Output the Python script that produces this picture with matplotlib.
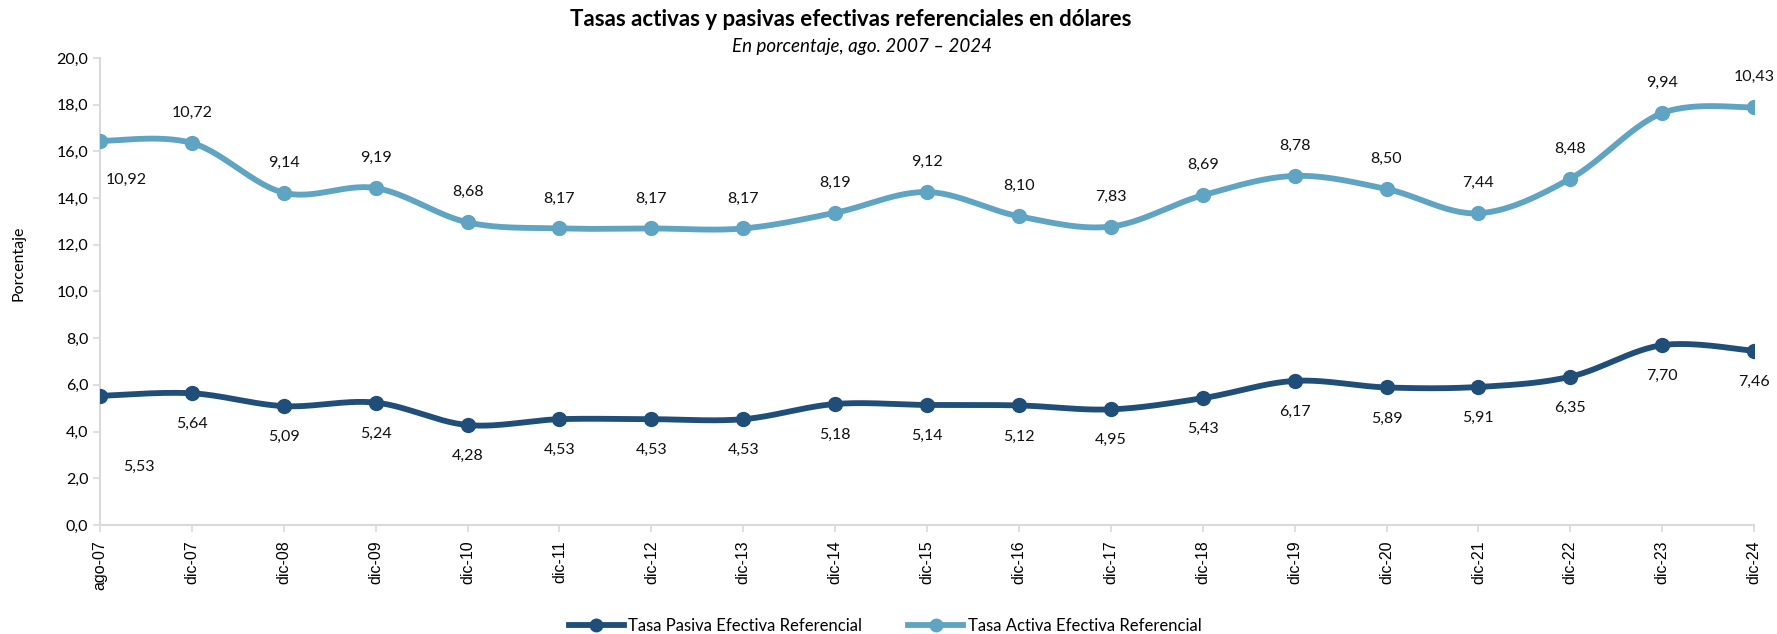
import matplotlib
matplotlib.use("Agg")
import matplotlib.pyplot as plt
import numpy as np
from matplotlib.lines import Line2D
from matplotlib.ticker import FuncFormatter

plt.rcParams["font.family"] = ["Lato", "DejaVu Sans"]

PASIVA_C = "#1F4E79"
ACTIVA_C = "#5FA4C2"
AXIS_C = "#D9D9D9"

periodos = ["ago-07", "dic-07", "dic-08", "dic-09", "dic-10", "dic-11", "dic-12",
            "dic-13", "dic-14", "dic-15", "dic-16", "dic-17", "dic-18", "dic-19",
            "dic-20", "dic-21", "dic-22", "dic-23", "dic-24"]
pasiva = [5.53, 5.64, 5.09, 5.24, 4.28, 4.53, 4.53, 4.53, 5.18, 5.14, 5.12,
          4.95, 5.43, 6.17, 5.89, 5.91, 6.35, 7.70, 7.46]
activa = [10.92, 10.72, 9.14, 9.19, 8.68, 8.17, 8.17, 8.17, 8.19, 9.12, 8.10,
          7.83, 8.69, 8.78, 8.50, 7.44, 8.48, 9.94, 10.43]


def smooth(x, y, n=30):
    # cubic Bezier through every point, tangents from neighbours (spreadsheet-style smoothing)
    x = np.asarray(x, float)
    y = np.asarray(y, float)
    px = np.concatenate([[x[0]], x, [x[-1]]])
    py = np.concatenate([[y[0]], y, [y[-1]]])
    xs, ys = [], []
    t = np.linspace(0, 1, n)
    for i in range(1, len(px) - 2):
        p0 = np.array([px[i], py[i]])
        p3 = np.array([px[i + 1], py[i + 1]])
        c1 = p0 + (np.array([px[i + 1], py[i + 1]]) - np.array([px[i - 1], py[i - 1]])) / 6
        c2 = p3 - (np.array([px[i + 2], py[i + 2]]) - np.array([px[i], py[i]])) / 6
        seg = ((1 - t)[:, None] ** 3) * p0 + 3 * ((1 - t) ** 2 * t)[:, None] * c1 \
            + 3 * ((1 - t) * t ** 2)[:, None] * c2 + (t[:, None] ** 3) * p3
        xs.extend(seg[:, 0])
        ys.extend(seg[:, 1])
    return np.array(xs), np.array(ys)


def coma(v):
    return f"{v:.2f}".replace(".", ",")


x = np.arange(len(periodos))
# stacked lines: the active rate sits on top of the passive one
apilado = np.array(pasiva) + np.array(activa)

fig = plt.figure(figsize=(17.77, 6.34), dpi=100)
ax = fig.add_axes([0.0563, 0.172, 0.9308, 0.7365])

for vals, col in [(pasiva, PASIVA_C), (apilado, ACTIVA_C)]:
    sx, sy = smooth(x, vals)
    ax.plot(sx, sy, color=col, lw=4.2, solid_capstyle="round", zorder=3)
    ax.plot(x, vals, "o", color=col, ms=10, zorder=4)

lbl = dict(textcoords="offset pixels", ha="center", va="center",
           fontsize=11.5, color="#111111")
for i in range(len(x)):
    if i == 0:
        ax.annotate(coma(pasiva[i]), (x[i], pasiva[i]), xytext=(39, -71), **lbl)
        ax.annotate(coma(activa[i]), (x[i], apilado[i]), xytext=(26, -39), **lbl)
        continue
    ax.annotate(coma(pasiva[i]), (x[i], pasiva[i]), xytext=(0, -31), **lbl)
    ax.annotate(coma(activa[i]), (x[i], apilado[i]), xytext=(0, 30), **lbl)

ax.set_xlim(0, len(x) - 1)
ax.set_ylim(0, 20)
ax.set_yticks(np.arange(0, 20.1, 2))
ax.yaxis.set_major_formatter(FuncFormatter(lambda v, p: f"{v:.1f}".replace(".", ",")))
ax.set_xticks(x)
ax.set_xticklabels(periodos, rotation=90, fontsize=11.5, family="Liberation Sans")
ax.tick_params(axis="y", labelsize=11.5, length=5, color=AXIS_C, width=1.2)
ax.tick_params(axis="x", length=5, color=AXIS_C, width=1.2, pad=6)
for s in ["top", "right"]:
    ax.spines[s].set_visible(False)
for s in ["left", "bottom"]:
    ax.spines[s].set_color(AXIS_C)
    ax.spines[s].set_linewidth(1.5)
ax.set_ylabel("Porcentaje", fontsize=11.5)
ax.yaxis.set_label_coords(-0.045, 0.56)

fig.text(0.479, 0.969, "Tasas activas y pasivas efectivas referenciales en dólares",
         ha="center", va="center", fontsize=16, fontweight="bold")
fig.text(0.485, 0.927, "En porcentaje, ago. 2007 \u2013 2024",
         ha="center", va="center", fontsize=13.5, style="italic")

handles = [Line2D([], [], color=PASIVA_C, lw=4.2, marker="o", ms=9),
           Line2D([], [], color=ACTIVA_C, lw=4.2, marker="o", ms=9)]
fig.legend(handles, ["Tasa Pasiva Efectiva Referencial", "Tasa Activa Efectiva Referencial"],
           loc="center", bbox_to_anchor=(0.498, 0.013), ncol=2, frameon=False,
           fontsize=12, handlelength=3.3, handletextpad=0.25, columnspacing=2.8)

fig.savefig("out.png", dpi=100, facecolor="white")
